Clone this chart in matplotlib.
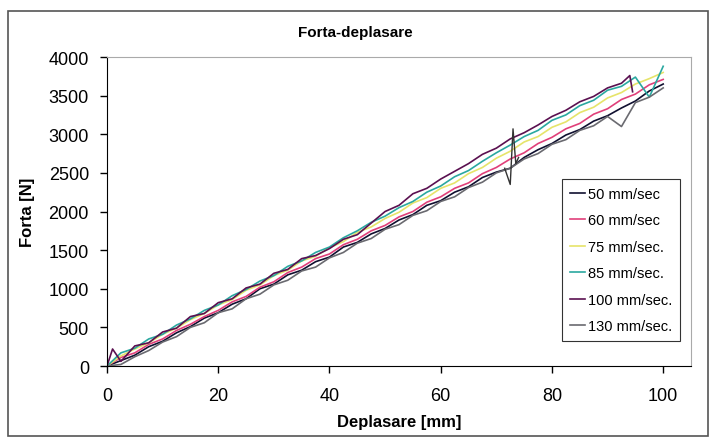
import matplotlib
matplotlib.use('Agg')
import matplotlib.pyplot as plt
from matplotlib.patches import Rectangle

plt.rcParams['font.family'] = ['Liberation Sans', 'DejaVu Sans']

# deplasare [mm], every 2.5 mm
x_std = [0, 2.5, 5, 7.5, 10, 12.5, 15, 17.5, 20, 22.5, 25, 27.5, 30, 32.5, 35, 37.5,
         40, 42.5, 45, 47.5, 50, 52.5, 55, 57.5, 60, 62.5, 65, 67.5, 70, 72.5, 75,
         77.5, 80, 82.5, 85, 87.5, 90, 92.5, 95, 97.5, 100]

f_50 = [0, 70, 140, 250, 320, 430, 510, 620, 690, 800, 870, 1000, 1060, 1180, 1240, 1350,
        1410, 1540, 1600, 1710, 1780, 1890, 1960, 2080, 2140, 2250, 2320, 2440, 2510, 2560, 2700,
        2800, 2880, 2990, 3060, 3170, 3240, 3340, 3430, 3560, 3650]
f_60 = [0, 110, 170, 280, 350, 460, 540, 640, 720, 830, 900, 1020, 1090, 1210, 1280, 1390,
        1450, 1570, 1640, 1750, 1820, 1930, 2000, 2120, 2190, 2300, 2370, 2490, 2570, 2680, 2760,
        2880, 2960, 3070, 3140, 3260, 3330, 3450, 3520, 3640, 3710]
f_75 = [0, 130, 220, 300, 410, 490, 600, 680, 790, 860, 980, 1050, 1170, 1240, 1360, 1420,
        1530, 1610, 1730, 1800, 1910, 1990, 2110, 2180, 2300, 2370, 2490, 2570, 2690, 2780, 2900,
        2970, 3090, 3160, 3280, 3350, 3470, 3540, 3650, 3720, 3800]
f_85 = [0, 170, 230, 350, 410, 530, 610, 720, 790, 910, 990, 1100, 1170, 1290, 1360, 1470,
        1540, 1660, 1750, 1860, 1940, 2050, 2130, 2250, 2330, 2450, 2530, 2650, 2760, 2860, 2970,
        3050, 3180, 3250, 3370, 3440, 3570, 3620, 3740, 3480, 3880]
f_130 = [0, 20, 120, 200, 310, 380, 500, 560, 690, 740, 870, 930, 1050, 1110, 1230, 1280,
         1400, 1470, 1590, 1650, 1770, 1830, 1950, 2010, 2130, 2190, 2310, 2380, 2500, 2560, 2680,
         2750, 2870, 2930, 3050, 3110, 3230, 3100, 3410, 3480, 3600]

# 100 mm/sec stops near 95 mm
x_100 = [0, 1, 2.5, 5, 7.5, 10, 12.5, 15, 17.5, 20, 22.5, 25, 27.5, 30, 32.5, 35, 37.5,
         40, 42.5, 45, 47.5, 50, 52.5, 55, 57.5, 60, 62.5, 65, 67.5, 70, 72.5, 75,
         77.5, 80, 82.5, 85, 87.5, 90, 92.5, 94, 94.5]
f_100 = [0, 220, 60, 260, 300, 440, 490, 640, 680, 820, 870, 1010, 1060, 1200, 1250, 1390, 1430,
         1520, 1640, 1700, 1850, 2000, 2080, 2230, 2300, 2420, 2520, 2620, 2740, 2820, 2940, 3020,
         3120, 3230, 3310, 3420, 3490, 3600, 3660, 3760, 3550]

# vertical jump near 73 mm
x_jump = [71.5, 72.5, 73, 73.5, 74]
f_jump = [2560, 2350, 3070, 2620, 2700]

series = [
    ('50 mm/sec', x_std, f_50, '#101030'),
    ('60 mm/sec', x_std, f_60, '#e0407a'),
    ('75 mm/sec.', x_std, f_75, '#e6e46a'),
    ('85 mm/sec.', x_std, f_85, '#2aa8a0'),
    ('100 mm/sec.', x_100, f_100, '#5a1050'),
    ('130 mm/sec.', x_std, f_130, '#6a6a70'),
]

fig = plt.figure(figsize=(7.1, 4.39), dpi=100)
fig.patches.append(Rectangle((8 / 710, 2 / 439), 700 / 710, 425 / 439, transform=fig.transFigure,
                             fill=False, edgecolor='#555555', linewidth=1.2))

ax = fig.add_axes([107 / 710, 1 - 367 / 439, (691 - 107) / 710, (367 - 58) / 439])

for lab, xs, ys, c in series:
    ax.plot(xs, ys, color=c, linewidth=1.2, label=lab)
ax.plot(x_jump, f_jump, color='#333333', linewidth=1.0)

ax.set_xlim(0, 105)
ax.set_ylim(0, 4000)
ax.set_xticks([0, 20, 40, 60, 80, 100])
ax.set_yticks(range(0, 4001, 500))
ax.tick_params(labelsize=13, length=5, width=1, direction='out')
ax.tick_params(axis='x', pad=10)
ax.tick_params(axis='y', pad=8)
ax.spines['top'].set_color('#aaaaaa')
ax.spines['right'].set_color('#aaaaaa')

ax.set_xlabel('Deplasare [mm]', fontsize=12, fontweight='bold', labelpad=7)
ax.set_ylabel('Forta [N]', fontsize=12, fontweight='bold', labelpad=10)
fig.text(0.5, 1 - 33 / 439, 'Forta-deplasare', ha='center', va='center', fontsize=11,
         fontweight='bold')

leg = ax.legend(loc='upper left', bbox_to_anchor=((562 - 107) / 584, 1 - (180 - 58) / 309),
                fontsize=10.5, frameon=True, fancybox=False, edgecolor='black',
                handlelength=1.0, handletextpad=0.2, labelspacing=0.85, borderpad=0.55,
                borderaxespad=0)
leg.get_frame().set_linewidth(0.8)

fig.savefig('out.png', dpi=100)
